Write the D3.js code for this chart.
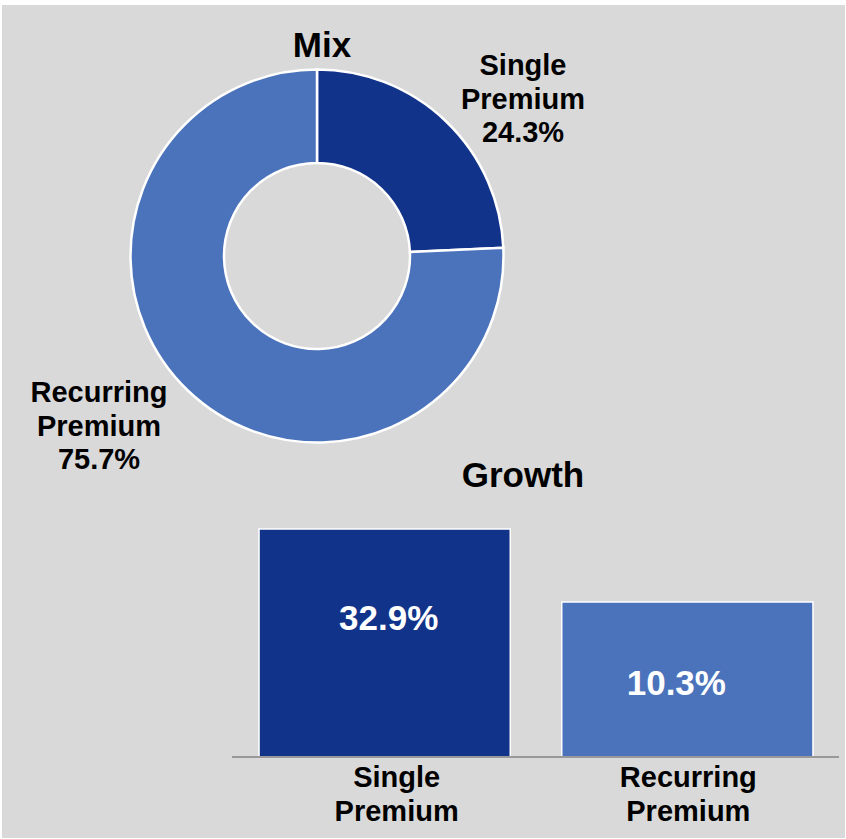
<!DOCTYPE html>
<html>
<head>
<meta charset="utf-8">
<script src="https://cdn.jsdelivr.net/npm/d3@7"></script>
<style>
  html, body { margin: 0; padding: 0; background: #ffffff; }
  svg { display: block; }
  text { font-family: "Liberation Sans", Arial, sans-serif; font-weight: bold; }
</style>
</head>
<body>
<svg id="chart" width="846" height="839"></svg>
<script>
// Premium mix (share of total, %)
const mixCategories = ["Single Premium", "Recurring Premium"];
const mixValues = [24.3, 75.7];
const mixLabelLines = [["Single", "Premium", "24.3%"], ["Recurring", "Premium", "75.7%"]];

// Premium growth (%)
const growthCategories = ["Single Premium", "Recurring Premium"];
const growthValues = [32.9, 10.3];
const growthValueLabels = ["32.9%", "10.3%"];
const growthTickLines = [["Single", "Premium"], ["Recurring", "Premium"]];

const colors = ["#12338a", "#4b73bc"];

const svg = d3.select("#chart");

// panel background
svg.append("rect")
  .attr("x", 2).attr("y", 5)
  .attr("width", 843).attr("height", 833)
  .attr("fill", "#d9d9d9");

// ---------- Mix donut ----------
const cx = 317, cy = 256;
const pie = d3.pie().sort(null).value(d => d)(mixValues);
const arc = d3.arc().innerRadius(93).outerRadius(186.5);

const donut = svg.append("g").attr("transform", `translate(${cx},${cy})`);
donut.selectAll("path")
  .data(pie)
  .join("path")
  .attr("d", arc)
  .attr("fill", (d, i) => colors[i])
  .attr("stroke", "#ffffff")
  .attr("stroke-width", 2.5);

svg.append("text")
  .attr("x", 322).attr("y", 57)
  .attr("text-anchor", "middle")
  .attr("font-size", 35)
  .attr("fill", "#000")
  .text("Mix");

// slice labels placed outside the ring
const mixLabelPos = [{x: 523, y: 75}, {x: 99, y: 402}];
mixLabelLines.forEach((lines, i) => {
  const t = svg.append("text")
    .attr("text-anchor", "middle")
    .attr("font-size", 29)
    .attr("fill", "#000");
  lines.forEach((ln, j) => {
    t.append("tspan")
      .attr("x", mixLabelPos[i].x)
      .attr("y", mixLabelPos[i].y + j * 33.5)
      .text(ln);
  });
});

// ---------- Growth bars ----------
svg.append("text")
  .attr("x", 523).attr("y", 487)
  .attr("text-anchor", "middle")
  .attr("font-size", 35)
  .attr("fill", "#000")
  .text("Growth");

const x = d3.scaleBand()
  .domain(growthCategories)
  .range([233, 839])
  .paddingInner(0.17)
  .paddingOuter(0.086);

// value axis baseline sits below zero
const y = d3.scaleLinear()
  .domain([-37.7, 32.9])
  .range([757, 529]);

svg.append("g")
  .selectAll("rect")
  .data(growthValues)
  .join("rect")
  .attr("x", (d, i) => x(growthCategories[i]))
  .attr("width", x.bandwidth())
  .attr("y", d => y(d))
  .attr("height", d => y(-37.7) - y(d))
  .attr("fill", (d, i) => colors[i])
  .attr("stroke", "#ffffff")
  .attr("stroke-width", 1.5);

// value labels inside bars
const valueLabelOffset = [101, 93];
const valueLabelShift = [4, -11];
svg.append("g")
  .selectAll("text")
  .data(growthValues)
  .join("text")
  .attr("x", (d, i) => x(growthCategories[i]) + x.bandwidth() / 2 + valueLabelShift[i])
  .attr("y", (d, i) => y(d) + valueLabelOffset[i])
  .attr("text-anchor", "middle")
  .attr("font-size", 35)
  .attr("fill", "#ffffff")
  .text((d, i) => growthValueLabels[i]);

// category axis
const axis = svg.append("g").attr("transform", `translate(0,${y(-37.7)})`)
  .call(d3.axisBottom(x).tickSize(0).tickFormat(""));
axis.select(".domain")
  .attr("d", "M232,0H839")
  .attr("stroke", "#999999")
  .attr("stroke-width", 2);

const tickShift = [12, 1];
growthTickLines.forEach((lines, i) => {
  const t = svg.append("text")
    .attr("text-anchor", "middle")
    .attr("font-size", 29)
    .attr("fill", "#000");
  lines.forEach((ln, j) => {
    t.append("tspan")
      .attr("x", x(growthCategories[i]) + x.bandwidth() / 2 + tickShift[i])
      .attr("y", 787 + j * 34)
      .text(ln);
  });
});
</script>
</body>
</html>
